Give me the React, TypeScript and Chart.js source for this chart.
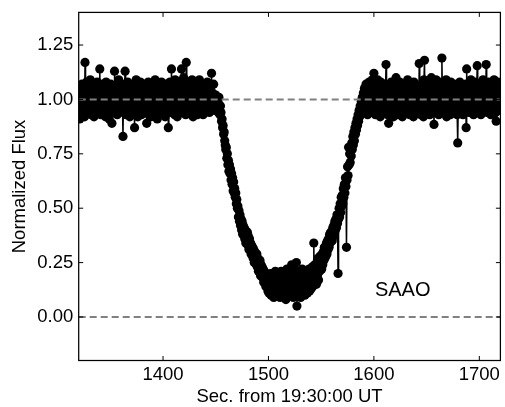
import React, { useEffect, useRef } from "react";
import { Chart, registerables } from "chart.js";

Chart.register(...registerables);

// Observation cadence (seconds after 19:30:00 UT)
const T_START = 1320;
const CADENCE = 0.5;

// Normalized flux (one row = 5 s)
const FLUX_PRE = [
  1.03, 0.97, 0.91, 1.05, 0.99, 0.93, 1.07, 1.01, 0.95, 1.04,
  0.98, 0.92, 1.17, 1.02, 0.96, 1.08, 0.94, 1.00, 1.06, 0.97,
  1.03, 0.95, 1.09, 0.99, 0.93, 1.05, 1.01, 0.96, 1.07, 0.92,
  1.00, 1.06, 0.94, 1.03, 0.98, 1.08, 0.95, 1.02, 0.97, 1.05,
  1.14, 0.99, 0.93, 1.04, 0.96, 1.07, 1.01, 0.94, 1.06, 0.98,
  1.03, 0.92, 1.08, 0.97, 1.02, 0.95, 1.05, 0.99, 0.91, 1.04,
  0.96, 1.07, 1.00, 0.89, 1.05, 0.98, 1.03, 0.94, 1.13, 1.01,
  0.95, 1.06, 0.99, 0.93, 1.04, 0.97, 1.09, 1.00, 0.94, 1.05,
  1.02, 0.96, 1.07, 0.98, 0.83, 1.03, 0.95, 1.06, 1.13, 0.99,
  0.93, 1.04, 0.97, 1.08, 1.01, 0.95, 1.03, 0.92, 1.06, 0.98,
  1.05, 0.96, 1.02, 0.94, 1.07, 0.99, 0.87, 1.03, 0.97, 1.09,
  0.95, 1.01, 0.92, 1.06, 0.98, 1.04, 0.96, 1.08, 1.00, 0.93,
  1.05, 0.97, 1.03, 0.94, 1.07, 0.99, 1.02, 0.95, 1.06, 0.89,
  1.01, 0.96, 1.08, 0.93, 1.04, 0.98, 1.05, 0.92, 1.02, 0.97,
  1.06, 0.99, 0.94, 1.03, 0.97, 1.09, 1.00, 0.95, 1.04, 0.91,
  1.07, 0.98, 1.02, 0.96, 1.05, 0.93, 1.01, 1.08, 0.97, 1.03,
  0.95, 1.06, 0.99, 1.04, 0.92, 1.07, 0.98, 1.02, 0.96, 1.05,
  0.87, 1.03, 0.97, 1.08, 1.00, 0.94, 1.14, 1.02, 0.95, 1.06,
  0.98, 1.04, 0.93, 1.09, 1.01, 0.96, 1.05, 0.92, 1.07, 0.99,
  1.03, 0.95, 1.08, 0.97, 1.02, 1.14, 0.94, 1.06, 1.00, 1.10,
  0.96, 1.05, 1.01, 0.93, 1.17, 1.03, 0.97, 1.08, 0.95, 1.04,
  0.99, 1.07, 0.94, 1.02, 0.96, 1.09, 1.00, 0.92, 1.05, 0.98,
  1.04, 0.95, 1.08, 0.99, 1.03, 0.93, 1.06, 0.97, 1.01, 1.09,
  0.94, 1.05, 0.98, 1.02, 0.96, 1.07, 0.93, 1.04, 1.00, 0.97,
  1.06, 0.99, 1.03, 0.95, 1.08, 1.01, 0.97, 1.05, 0.94, 1.02,
  0.98, 1.06, 1.12, 0.96, 1.03, 0.99, 1.07, 0.95, 1.02, 0.97,
];
const FLUX_INGRESS = [
  1.02, 0.97, 1.00, 0.95, 0.99, 0.94, 1.01, 0.96, 0.93, 0.97,
  0.94, 0.90, 0.91, 0.87, 0.88, 0.84, 0.85, 0.81, 0.79, 0.77,
  0.78, 0.73, 0.75, 0.70, 0.72, 0.67, 0.70, 0.66, 0.68, 0.63,
  0.66, 0.61, 0.64, 0.58, 0.62, 0.57, 0.59, 0.55, 0.57, 0.52,
  0.54, 0.50, 0.51, 0.46, 0.49, 0.44, 0.47, 0.42, 0.45, 0.40,
  0.44, 0.38, 0.42, 0.39, 0.41, 0.36, 0.40, 0.34, 0.38, 0.35,
  0.39, 0.33, 0.37, 0.31, 0.36, 0.32, 0.34, 0.29, 0.33, 0.30,
  0.32, 0.27, 0.31, 0.25, 0.30, 0.26, 0.28, 0.24, 0.29, 0.23,
  0.27, 0.21, 0.25, 0.22, 0.26, 0.19, 0.24, 0.20, 0.23, 0.18,
  0.22, 0.16, 0.21, 0.17, 0.19, 0.14, 0.20, 0.15, 0.18, 0.12,
];
const FLUX_BOTTOM = [
  0.16, 0.11, 0.18, 0.13, 0.20, 0.10, 0.15, 0.19, 0.12, 0.17,
  0.09, 0.16, 0.13, 0.21, 0.11, 0.18, 0.14, 0.10, 0.17, 0.12,
  0.19, 0.13, 0.09, 0.16, 0.21, 0.12, 0.17, 0.10, 0.15, 0.20,
  0.11, 0.18, 0.14, 0.08, 0.16, 0.22, 0.12, 0.17, 0.10, 0.19,
  0.14, 0.21, 0.11, 0.17, 0.24, 0.13, 0.19, 0.09, 0.23, 0.15,
  0.12, 0.20, 0.16, 0.25, 0.05, 0.18, 0.13, 0.21, 0.10, 0.17,
  0.15, 0.09, 0.19, 0.13, 0.22, 0.11, 0.17, 0.14, 0.20, 0.10,
  0.18, 0.13, 0.21, 0.15, 0.11, 0.19, 0.16, 0.22, 0.12, 0.18,
  0.20, 0.13, 0.17, 0.23, 0.14, 0.21, 0.34, 0.16, 0.24, 0.19,
  0.22, 0.15, 0.25, 0.19, 0.27, 0.17, 0.24, 0.21, 0.28, 0.23,
];
const FLUX_EGRESS = [
  0.27, 0.22, 0.29, 0.24, 0.30, 0.26, 0.32, 0.27, 0.31, 0.28,
  0.34, 0.29, 0.35, 0.31, 0.36, 0.32, 0.38, 0.34, 0.39, 0.35,
  0.39, 0.35, 0.41, 0.37, 0.42, 0.38, 0.44, 0.40, 0.45, 0.41,
  0.47, 0.43, 0.20, 0.45, 0.50, 0.46, 0.52, 0.48, 0.55, 0.51,
  0.56, 0.52, 0.59, 0.55, 0.61, 0.57, 0.64, 0.60, 0.32, 0.63,
  0.69, 0.65, 0.78, 0.70, 0.75, 0.71, 0.78, 0.74, 0.80, 0.77,
  0.83, 0.79, 0.85, 0.81, 0.87, 0.84, 0.89, 0.86, 0.91, 0.88,
  0.93, 0.90, 0.95, 0.92, 0.97, 0.94, 0.99, 0.96, 1.01, 0.97,
  1.03, 0.98, 1.05, 0.95, 1.01, 1.07, 0.97, 1.04, 0.93, 1.02,
  0.99, 1.08, 0.96, 1.03, 0.94, 1.06, 1.00, 1.09, 0.97, 1.04,
];
const FLUX_POST = [
  1.12, 0.98, 1.05, 0.93, 1.07, 1.01, 0.95, 1.09, 0.99, 1.04,
  0.96, 1.03, 0.92, 1.08, 1.00, 0.94, 1.06, 0.98, 1.02, 0.95,
  1.07, 0.99, 1.04, 1.16, 0.97, 1.05, 0.93, 1.01, 0.89, 1.06,
  0.98, 1.03, 0.94, 1.08, 1.00, 0.96, 1.05, 0.92, 1.07, 0.99,
  1.04, 0.95, 1.10, 0.97, 1.02, 0.93, 1.06, 1.00, 0.96, 1.08,
  0.94, 1.03, 0.98, 1.05, 0.92, 1.07, 1.01, 0.95, 1.04, 0.99,
  1.06, 0.97, 1.02, 0.94, 1.09, 1.00, 0.96, 1.05, 0.93, 1.03,
  0.98, 1.07, 0.95, 1.01, 1.04, 0.92, 1.08, 0.97, 1.02, 0.96,
  1.05, 0.99, 0.94, 1.06, 1.01, 0.95, 1.165, 0.98, 1.03, 0.93,
  1.07, 1.00, 0.96, 1.04, 0.92, 1.09, 1.18, 0.97, 1.03, 0.95,
  1.01, 1.06, 0.94, 1.08, 0.98, 1.03, 0.93, 1.05, 0.99, 1.10,
  0.96, 1.02, 0.95, 1.07, 0.885, 1.00, 1.04, 0.97, 1.09, 0.94,
  1.03, 0.98, 1.06, 0.93, 1.01, 1.08, 0.96, 1.04, 0.99, 1.19,
  1.02, 0.95, 1.07, 1.00, 0.94, 1.05, 0.97, 1.09, 0.92, 1.03,
  0.98, 1.06, 0.95, 1.01, 1.04, 0.93, 1.08, 0.99, 0.96, 1.05,
  1.02, 0.94, 1.07, 0.97, 1.03, 0.95, 1.06, 1.00, 0.93, 0.80,
  0.97, 1.04, 0.99, 1.08, 0.94, 1.02, 1.06, 0.96, 1.01, 0.93,
  1.05, 0.98, 1.03, 0.95, 1.07, 0.87, 1.14, 1.00, 0.96, 1.04,
  0.94, 1.06, 1.01, 0.97, 1.09, 0.95, 1.03, 0.99, 1.05, 0.93,
  1.02, 0.96, 1.08, 1.00, 0.94, 1.04, 1.155, 0.98, 1.06, 0.95,
  1.03, 0.97, 1.07, 0.93, 1.01, 1.05, 0.96, 1.09, 0.99, 1.04,
  0.95, 1.02, 0.98, 1.16, 1.06, 0.94, 1.03, 0.97, 1.08, 1.00,
  0.96, 1.05, 0.93, 1.01, 1.07, 0.98, 1.04, 0.95, 1.09, 0.99,
  1.03, 0.94, 0.90, 1.06, 1.00, 0.96, 1.08, 1.02, 0.95, 1.05,
];

const X_TICKS = [1400, 1500, 1600, 1700];
const Y_TICKS = [0, 0.25, 0.5, 0.75, 1.0, 1.25];
const X_MIN = 1320;
const X_MAX = 1720;
const Y_MIN = -0.2;
const Y_MAX = 1.4;
const REF_LEVELS = [1.0, 0.0];
const SITE_LABEL = "SAAO";
const SITE_LABEL_X = 1601;
const SITE_LABEL_Y = 0.095;
const X_TITLE = "Sec. from 19:30:00 UT";
const Y_TITLE = "Normalized Flux";

const FONT_FAMILY = '"Liberation Sans", Arial, Helvetica, sans-serif';

const overlayPlugin = {
  id: "overlay",
  afterDatasetsDraw(chart: any) {
    const { ctx, chartArea: a, scales } = chart;
    const xs = scales.x;
    const ys = scales.y;
    ctx.save();
    // dashed reference lines
    ctx.strokeStyle = "#808080";
    ctx.lineWidth = 2;
    ctx.setLineDash([7, 4]);
    for (const v of REF_LEVELS) {
      const py = ys.getPixelForValue(v);
      ctx.beginPath();
      ctx.moveTo(a.left, py);
      ctx.lineTo(a.right, py);
      ctx.stroke();
    }
    ctx.setLineDash([]);
    // site label
    ctx.fillStyle = "#000";
    ctx.font = `20px ${FONT_FAMILY}`;
    ctx.textAlign = "left";
    ctx.textBaseline = "alphabetic";
    ctx.fillText(SITE_LABEL, xs.getPixelForValue(SITE_LABEL_X), ys.getPixelForValue(SITE_LABEL_Y));
    // frame
    ctx.strokeStyle = "#000";
    ctx.lineWidth = 1.25;
    ctx.strokeRect(a.left, a.top, a.right - a.left, a.bottom - a.top);
    // inward ticks on all sides
    ctx.lineWidth = 1;
    const seg = (x1: number, y1: number, x2: number, y2: number) => {
      ctx.beginPath();
      ctx.moveTo(x1, y1);
      ctx.lineTo(x2, y2);
      ctx.stroke();
    };
    const L = 4.5;
    for (const v of X_TICKS) {
      const px = xs.getPixelForValue(v);
      seg(px, a.bottom, px, a.bottom - L);
      seg(px, a.top, px, a.top + L);
    }
    for (const v of Y_TICKS) {
      const py = ys.getPixelForValue(v);
      seg(a.left, py, a.left + L, py);
      seg(a.right, py, a.right - L, py);
    }
    ctx.restore();
  },
};

export default function App() {
  const canvasRef = useRef<HTMLCanvasElement | null>(null);

  useEffect(() => {
    const canvas = canvasRef.current;
    if (!canvas) return;
    const flux = [...FLUX_PRE, ...FLUX_INGRESS, ...FLUX_BOTTOM, ...FLUX_EGRESS, ...FLUX_POST];
    const points = flux.map((f, i) => ({ x: T_START + i * CADENCE, y: f }));

    const chart = new Chart(canvas, {
      type: "line",
      data: {
        datasets: [
          {
            data: points,
            borderColor: "#000",
            borderWidth: 1.5,
            backgroundColor: "#000",
            pointRadius: 4.6,
            pointBackgroundColor: "#000",
            pointBorderColor: "#000",
            pointBorderWidth: 0,
            pointHoverRadius: 4.6,
            tension: 0,
            fill: false,
            clip: 0,
          } as any,
        ],
      },
      options: {
        animation: false,
        responsive: false,
        devicePixelRatio: 1,
        events: [],
        layout: { padding: { top: 12.4, right: 3, left: 0, bottom: 0 } },
        plugins: {
          legend: { display: false },
          tooltip: { enabled: false },
        },
        scales: {
          x: {
            type: "linear",
            min: X_MIN,
            max: X_MAX,
            afterBuildTicks: (s: any) => {
              s.ticks = X_TICKS.map((v) => ({ value: v }));
            },
            afterFit: (s: any) => {
              s.height = 46.5;
              s.paddingLeft = 0;
              s.paddingRight = 0;
            },
            grid: { display: false, drawTicks: false, tickLength: 0 },
            border: { display: false },
            ticks: {
              color: "#000",
              padding: 3,
              maxRotation: 0,
              autoSkip: false,
              font: { family: FONT_FAMILY, size: 18.5 },
              callback: (v: any) => String(v),
            },
            title: {
              display: true,
              text: X_TITLE,
              color: "#000",
              font: { family: FONT_FAMILY, size: 18.5, lineHeight: 1 },
              padding: { top: 0, bottom: 1 },
            },
          },
          y: {
            type: "linear",
            min: Y_MIN,
            max: Y_MAX,
            afterBuildTicks: (s: any) => {
              s.ticks = Y_TICKS.map((v) => ({ value: v }));
            },
            afterFit: (s: any) => {
              s.width = 78.7;
              s.paddingTop = 0;
              s.paddingBottom = 0;
            },
            grid: { display: false, drawTicks: false, tickLength: 0 },
            border: { display: false },
            ticks: {
              color: "#000",
              padding: 5.4,
              autoSkip: false,
              font: { family: FONT_FAMILY, size: 18.5 },
              callback: (v: any) => Number(v).toFixed(2),
            },
            title: {
              display: true,
              text: Y_TITLE,
              color: "#000",
              font: { family: FONT_FAMILY, size: 18.5, lineHeight: 1 },
              padding: { top: 11, bottom: 0 },
            },
          },
        },
      } as any,
      plugins: [overlayPlugin],
    });
    return () => chart.destroy();
  }, []);

  return (
    <div style={{ position: "fixed", left: 0, top: 0, width: 505, height: 407, background: "#fff" }}>
      <canvas ref={canvasRef} width={505} height={407} style={{ width: 505, height: 407, display: "block" }} />
    </div>
  );
}
